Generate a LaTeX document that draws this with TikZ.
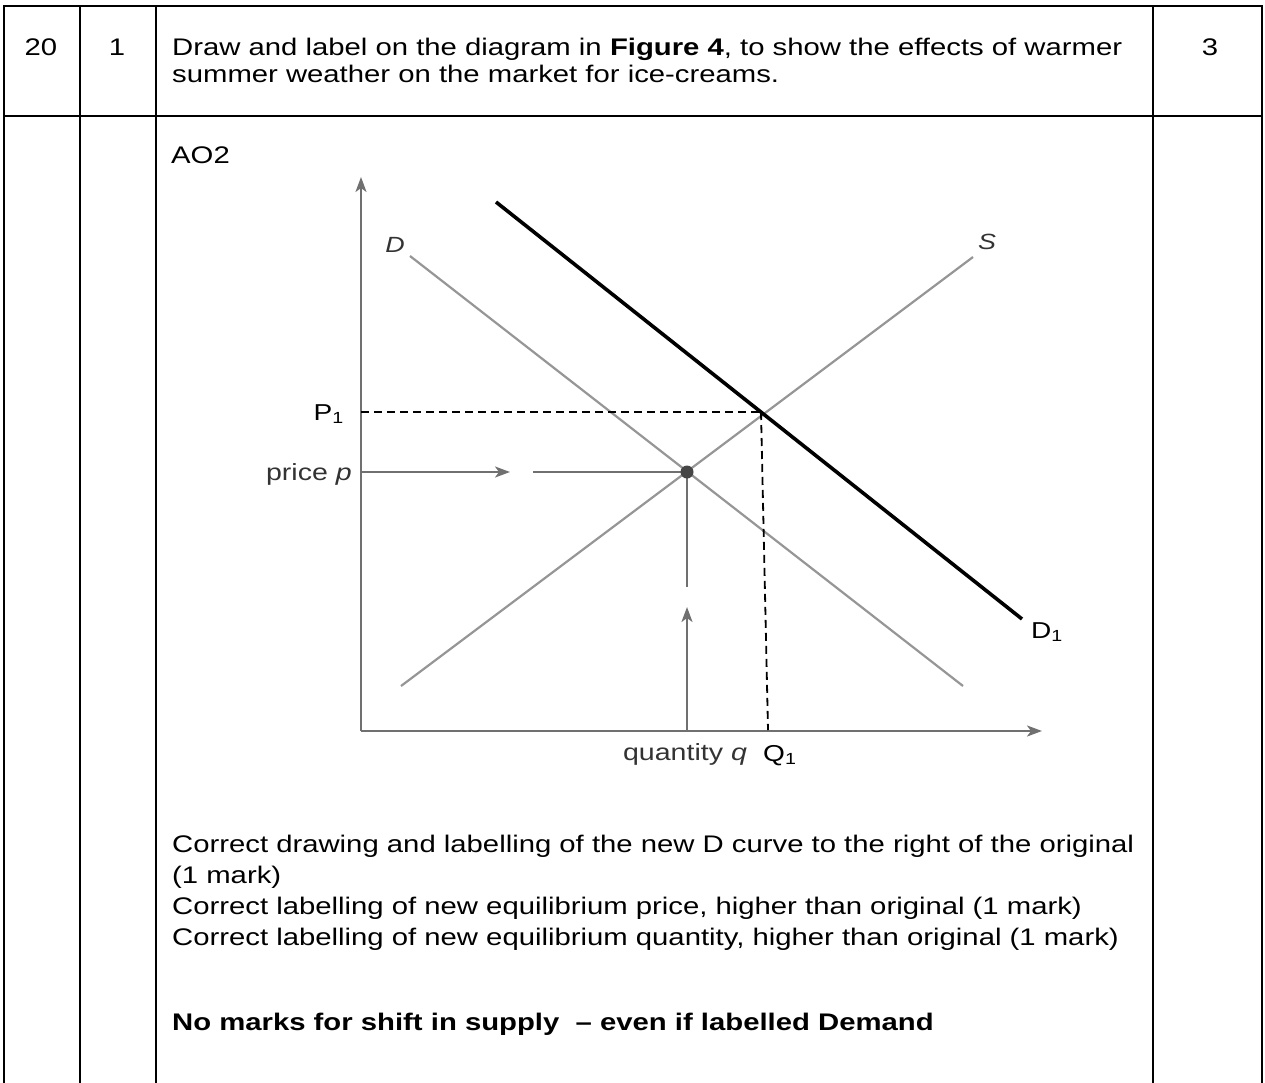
\documentclass[tikz,border=0pt]{standalone}
\usepackage{fontspec}
\setmainfont{Liberation Sans}[FakeStretch=1.22]
\usepackage{tikz}
\usetikzlibrary{arrows.meta,positioning}
\definecolor{axisgray}{RGB}{112,112,112}
\definecolor{curvegray}{RGB}{150,150,150}
\definecolor{dotgray}{RGB}{70,70,70}

\begin{document}
\begin{tikzpicture}[
  x=1pt,y=-1pt,
  rule/.style={line width=2.4pt,line cap=rect},
  txt/.style={anchor=base west,inner sep=0pt,font=\fontsize{24}{28}\selectfont},
  cell/.style={anchor=base,inner sep=0pt,font=\fontsize{24}{28}\selectfont},
  lbl/.style={inner sep=0pt,font=\fontsize{23.4}{27}\selectfont,text=black!80},
  sub/.style={inner sep=0pt,text=black,font=\fontsize{23}{27}\selectfont},
  axis/.style={draw=axisgray,line width=2.2pt,-{Stealth[length=15pt,width=11pt,inset=4pt]}},
  guide/.style={draw=axisgray,line width=2.2pt},
  curve/.style={draw=curvegray,line width=2.2pt},
  newcurve/.style={draw=black,line width=3.6pt},
  level/.style={draw=black,line width=1.8pt,dash pattern=on 8pt off 5pt}
]
  \useasboundingbox (0,0) rectangle (1265,1082);

  % Table
  \foreach \x in {4,80,156,1153,1262}
    \draw[rule] (\x,6) -- (\x,1082);
  \draw[rule] (4,6) -- (1262,6);
  \draw[rule] (4,116) -- (1262,116);

  % First row
  \node[cell] (qno) at (41,55) {20};
  \node[cell] (part) at (117,55) {1};
  \node[cell] (marks) at (1210,55) {3};
  \node[txt] (task) at (172,55) {Draw and label on the diagram in \textbf{Figure 4}, to show the effects of warmer};
  \node[txt] (task2) at (172,82) {summer weather on the market for ice-creams.};

  % Second row
  \node[txt] (ao) at (171,163) {AO2};

  % Axes
  \coordinate (O) at (361,731);
  \coordinate (ytop) at (361,177);
  \coordinate (xend) at (1042,731);
  \draw[axis] (O) -- (ytop);
  \draw[axis] (O) -- (xend);

  % Original curves
  \coordinate (dA) at (410,256);
  \coordinate (dB) at (963,686);
  \coordinate (sA) at (401,686);
  \coordinate (sB) at (973,257);
  \draw[curve] (dA) -- (dB);
  \draw[curve] (sA) -- (sB);
  \node[lbl,font=\fontsize{22}{26}\selectfont\itshape] (dlab) at (395,245) {D};
  \node[lbl,font=\fontsize{22}{26}\selectfont\itshape] (slab) at (987,242) {S};

  % Equilibrium
  \coordinate (eq) at (687,472);
  \coordinate (pax) at (361,472);
  \coordinate (parr) at (510,472);
  \coordinate (pgap) at (533,472);
  \coordinate (qax) at (687,731);
  \coordinate (qarr) at (687,607);
  \coordinate (qgap) at (687,587);
  \draw[axis] (pax) -- (parr);
  \draw[guide] (pgap) -- (eq);
  \draw[axis] (qax) -- (qarr);
  \draw[guide] (qgap) -- (eq);
  \fill[dotgray] (eq) circle (6.5);
  \node[lbl,anchor=base east] (plab) at (352,480) {price \textit{p}};
  \node[lbl,anchor=base] (qlab) at (685,760) {quantity \textit{q}};

  % New demand
  \coordinate (nA) at (496,202);
  \coordinate (nB) at (1022,619);
  \draw[newcurve] (nA) -- (nB);
  \node[sub,anchor=base west] (d1lab) at (1031,638) {D\textsubscript{1}};

  % New equilibrium
  \coordinate (neq) at (761,412);
  \coordinate (p1ax) at (361,412);
  \coordinate (q1ax) at (768,730);
  \draw[level] (p1ax) -- (neq);
  \draw[level] (neq) -- (q1ax);
  \node[sub,anchor=base east] (p1lab) at (344,420) {P\textsubscript{1}};
  \node[sub,anchor=base west] (q1lab) at (763,761) {Q\textsubscript{1}};

  % Mark scheme
  \node[txt] (m1) at (172,852) {Correct drawing and labelling of the new D curve to the right of the original};
  \node[txt] (m1b) at (172,883) {(1 mark)};
  \node[txt] (m2) at (172,914) {Correct labelling of new equilibrium price, higher than original (1 mark)};
  \node[txt] (m3) at (172,945) {Correct labelling of new equilibrium quantity, higher than original (1 mark)};
  \node[txt,font=\fontsize{24}{28}\selectfont\bfseries] (note) at (172,1030) {No marks for shift in supply~~-- even if labelled Demand};
\end{tikzpicture}
\end{document}
